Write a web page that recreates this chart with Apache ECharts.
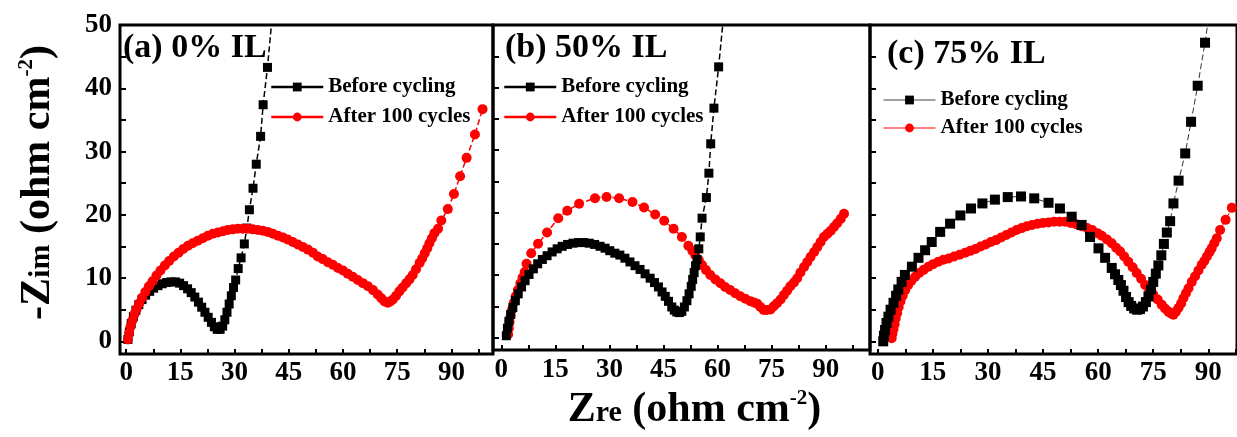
<!DOCTYPE html>
<html>
<head>
<meta charset="utf-8">
<script src="https://cdn.jsdelivr.net/npm/echarts@6/dist/echarts.min.js"></script>
<style>
html, body { margin: 0; padding: 0; background: #fff; }
#chart { width: 1237px; height: 437px; }
</style>
</head>
<body>
<div id="chart"></div>
<script>
// Nyquist data: [Zre, -Zim] in ohm cm^-2
const beforeA = [[0.5,0.3],[0.9,1.5],[1.4,2.8],[2.0,3.9],[2.7,4.9],[3.5,5.8],[4.4,6.6],[5.4,7.3],[6.5,7.9],[7.6,8.4],[8.8,8.8],[10.0,9.1],[11.2,9.3],[12.4,9.4],[13.6,9.4],[14.8,9.2],[15.9,8.8],[17.0,8.3],[18.0,7.7],[19.0,7.0],[20.0,6.2],[20.9,5.4],[21.8,4.6],[22.7,3.8],[23.6,3.0],[24.4,2.3],[25.2,1.9],[26.0,1.9],[26.7,2.4],[27.3,3.4],[27.9,4.6],[28.5,5.9],[29.1,7.2],[29.7,8.5],[30.3,9.7],[31.0,11.5],[31.8,13.2],[32.7,15.4],[33.4,17.9],[34.1,20.8],[35.1,24.2],[36.0,28.0],[37.2,32.4],[37.9,37.4],[39.1,43.3],[40.6,52.5]];
const afterA = [[0.5,0.3],[0.8,1.3],[1.2,2.3],[1.7,3.3],[2.3,4.3],[2.9,5.1],[3.6,6.0],[4.4,6.9],[5.3,7.8],[6.3,8.7],[7.3,9.5],[8.4,10.4],[9.5,11.2],[10.7,12.0],[11.9,12.7],[13.2,13.4],[14.5,14.0],[15.8,14.6],[17.1,15.1],[18.4,15.5],[19.8,15.9],[21.2,16.3],[22.6,16.7],[24.0,17.0],[25.4,17.2],[26.8,17.4],[28.1,17.6],[29.5,17.7],[30.9,17.8],[32.3,17.8],[33.7,17.8],[35.0,17.7],[36.4,17.6],[37.8,17.5],[39.2,17.3],[40.6,17.0],[42.0,16.7],[43.4,16.4],[44.7,16.1],[46.1,15.7],[47.5,15.3],[48.9,14.9],[50.3,14.5],[51.7,14.0],[53.0,13.4],[54.4,13.0],[55.8,12.5],[57.2,12.1],[58.6,11.6],[60.0,11.2],[61.3,10.7],[62.7,10.2],[64.1,9.7],[65.5,9.2],[66.9,8.7],[68.3,8.1],[69.6,7.4],[70.6,6.8],[71.5,6.3],[72.4,6.1],[73.1,6.3],[73.8,6.6],[74.7,7.2],[75.6,7.9],[76.5,8.5],[77.5,9.2],[78.4,9.8],[79.3,10.5],[80.2,11.4],[81.2,12.4],[81.9,13.1],[82.6,13.9],[83.3,14.7],[83.9,15.5],[84.6,16.3],[85.3,17.1],[86.3,17.8],[87.2,19.1],[89.0,20.9],[90.7,23.3],[92.4,26.1],[94.2,29.0],[96.5,32.7],[98.6,36.7]];
const beforeB = [[1.4,0.3],[1.7,1.5],[2.1,2.6],[2.6,3.7],[3.2,4.8],[3.9,5.9],[4.7,7.0],[5.6,8.1],[6.6,9.1],[7.7,10.1],[8.9,11.0],[10.1,11.8],[11.4,12.5],[12.7,13.1],[14.1,13.7],[15.5,14.2],[16.9,14.6],[18.4,14.9],[19.9,15.1],[21.4,15.2],[22.9,15.2],[24.4,15.1],[25.9,14.9],[27.4,14.6],[28.8,14.3],[30.1,13.9],[31.5,13.5],[32.9,13.2],[34.3,12.7],[35.7,12.1],[37.1,11.5],[38.5,10.9],[39.9,10.2],[41.3,9.5],[42.5,8.8],[43.6,8.1],[44.6,7.3],[45.5,6.6],[46.4,5.8],[47.3,4.9],[48.0,4.4],[48.7,4.1],[49.4,4.0],[50.1,4.2],[50.8,4.9],[51.5,5.9],[52.1,7.0],[52.7,8.2],[53.1,9.3],[53.5,10.4],[53.9,11.5],[54.3,12.5],[54.8,14.2],[55.2,16.1],[55.7,19.1],[56.9,22.4],[57.6,26.3],[58.1,31.0],[59.0,36.7],[60.3,43.3],[62.1,54.0]];
const afterB = [[1.9,0.5],[2.1,1.5],[2.3,2.5],[2.6,3.5],[3.0,4.5],[3.5,5.6],[4.0,6.6],[4.6,7.6],[5.3,8.7],[5.9,9.6],[6.5,10.5],[7.0,11.8],[8.3,13.5],[10.2,15.0],[12.7,16.8],[15.8,19.1],[18.3,20.3],[21.6,21.4],[26.0,22.3],[29.2,22.5],[32.7,22.3],[36.4,21.7],[39.6,20.8],[42.7,19.7],[45.2,18.7],[47.8,17.4],[50.1,16.1],[51.9,14.7],[53.0,13.9],[53.8,13.2],[54.8,12.4],[55.7,11.6],[56.8,10.8],[58.0,10.0],[59.4,9.3],[60.8,8.7],[62.1,8.1],[63.5,7.6],[64.9,7.1],[66.3,6.6],[67.7,6.2],[69.1,5.8],[70.1,5.6],[71.0,5.4],[71.9,4.9],[72.8,4.4],[73.7,4.4],[74.7,4.5],[75.6,5.0],[76.5,5.5],[77.5,6.1],[78.4,6.8],[79.3,7.5],[80.2,8.2],[81.2,8.8],[82.1,9.5],[83.0,10.4],[84.0,11.3],[84.9,12.1],[85.8,12.9],[86.8,13.7],[87.7,14.5],[88.6,15.3],[89.5,16.1],[90.5,16.6],[91.4,17.1],[92.3,17.7],[93.2,18.3],[94.2,19.0],[95.1,19.8]];
const beforeC = [[1.5,0.0],[1.7,0.9],[2.0,1.8],[2.4,2.9],[2.9,3.9],[3.5,5.0],[4.3,6.1],[5.0,7.2],[5.6,8.2],[6.5,9.4],[7.4,10.5],[9.3,11.8],[11.1,13.2],[12.9,14.4],[14.7,15.7],[17.0,17.3],[19.7,18.6],[22.5,19.9],[25.4,21.0],[28.5,21.8],[31.9,22.4],[35.4,22.8],[39.0,22.9],[42.6,22.6],[46.5,21.9],[49.6,21.0],[52.8,19.7],[55.5,18.4],[57.8,16.5],[60.1,14.7],[61.9,13.2],[63.7,11.6],[64.6,10.6],[65.5,9.7],[66.2,8.9],[66.9,8.0],[67.6,7.0],[68.3,6.2],[69.0,5.6],[69.8,5.2],[70.6,5.0],[71.4,5.1],[72.2,5.5],[73.0,6.2],[73.7,7.1],[74.4,8.2],[75.0,9.4],[75.7,10.7],[76.4,12.0],[77.2,13.6],[77.9,15.4],[78.7,17.2],[79.6,19.0],[80.5,21.8],[81.9,25.4],[83.7,29.7],[85.3,34.7],[87.1,40.4],[89.1,47.2],[91.0,55.0]];
const afterC = [[3.8,0.5],[4.0,1.2],[4.3,1.9],[4.6,2.7],[4.9,3.6],[5.3,4.5],[5.7,5.4],[6.2,6.3],[6.8,7.2],[7.5,8.1],[8.3,8.9],[9.2,9.6],[10.2,10.2],[11.3,10.8],[12.5,11.3],[13.8,11.8],[15.1,12.2],[16.5,12.6],[17.9,12.9],[19.3,13.1],[20.8,13.4],[22.3,13.7],[23.8,14.0],[25.2,14.3],[26.6,14.6],[28.0,15.0],[29.4,15.3],[30.8,15.7],[32.2,16.0],[33.6,16.4],[35.0,16.8],[36.4,17.2],[37.8,17.6],[39.2,17.9],[40.6,18.2],[42.0,18.4],[43.5,18.6],[45.0,18.7],[46.5,18.8],[48.0,18.9],[49.5,18.9],[51.0,18.9],[52.5,18.7],[54.0,18.5],[55.5,18.2],[57.0,17.9],[58.4,17.6],[59.8,17.1],[61.0,16.7],[62.4,16.1],[63.7,15.5],[64.9,14.8],[66.0,14.2],[67.1,13.4],[68.2,12.6],[69.4,11.7],[70.5,10.8],[71.7,9.9],[72.8,8.9],[73.9,8.1],[75.0,7.4],[76.2,6.6],[77.3,5.8],[78.2,5.2],[79.1,4.7],[79.8,4.4],[80.5,4.2],[81.2,4.7],[81.9,5.3],[82.6,6.0],[83.2,6.8],[83.9,7.6],[84.6,8.4],[85.5,9.4],[86.4,10.3],[87.3,11.2],[88.2,12.1],[88.9,12.7],[89.6,13.4],[90.3,14.1],[90.9,14.7],[91.6,15.5],[92.3,16.3],[93.2,17.6],[94.7,19.2],[96.4,21.1]];

const panelTitles = ['(a) 0% IL', '(b) 50% IL', '(c) 75% IL'];
const seriesNames = ['Before cycling', 'After 100 cycles'];
const xLabelValues = [0, 15, 30, 45, 60, 75, 90];
const xTickValues = [0, 7.5, 15, 22.5, 30, 37.5, 45, 52.5, 60, 67.5, 75, 82.5, 90, 97.5];
const yLabelValues = [0, 10, 20, 30, 40, 50];
const yTickValues = [0, 5, 10, 15, 20, 25, 30, 35, 40, 45, 50];

const font = "'Liberation Serif', 'Times New Roman', serif";

// panel layout (px) and axis ranges
const panels = [
    { left: 120, width: 373, xMin: -1.7, xMax: 101.5, before: beforeA, after: afterA, thin: false, sq: 9, titleLeft: 123, titleTop: 31, legLeft: 270, legTop: 76 },
    { left: 493, width: 377, xMin: -2.3, xMax: 102.3, before: beforeB, after: afterB, thin: false, sq: 9, titleLeft: 505, titleTop: 31, legLeft: 503, legTop: 76 },
    { left: 870, width: 367, xMin: -2.1, xMax: 97.8, before: beforeC, after: afterC, thin: true, sq: 10, titleLeft: 887, titleTop: 37, legLeft: 883, legTop: 89 }
];

const richName = {
    z: { fontSize: 42, lineHeight: 44, fontWeight: 'bold', fontFamily: font, color: '#000' },
    s: { fontSize: 30, lineHeight: 36, verticalAlign: 'bottom', padding: [0, 0, 4, 0], fontWeight: 'bold', fontFamily: font, color: '#000' },
    sup: { fontSize: 21, lineHeight: 22, verticalAlign: 'top', fontWeight: 'bold', fontFamily: font, color: '#000' }
};

const grid = [], xAxis = [], yAxis = [], series = [], title = [], legend = [];

panels.forEach((p, i) => {
    grid.push({
        left: p.left, top: 25, width: p.width, height: 329,
        show: true, borderColor: '#000', borderWidth: 3, backgroundColor: 'transparent'
    });
    xAxis.push({
        type: 'value', gridIndex: i, min: p.xMin, max: p.xMax,
        splitLine: { show: false },
        axisLine: { show: false, onZero: false },
        axisTick: { show: true, inside: true, length: 5, customValues: xTickValues, lineStyle: { color: '#000', width: 2 } },
        axisLabel: { customValues: xLabelValues, margin: 6, color: '#000', fontSize: 27, fontWeight: 'bold', fontFamily: font },
        name: i === 1 ? '{z|Z}{s|re}{z| (ohm cm}{sup|-2}{z|)}' : '',
        nameLocation: 'middle', nameGap: 36,
        nameTextStyle: { padding: [0, 0, 0, 26], rich: richName }
    });
    yAxis.push({
        type: 'value', gridIndex: i, min: -2, max: 50,
        splitLine: { show: false },
        axisLine: { show: false, onZero: false },
        axisTick: { show: true, inside: true, length: 6, customValues: yTickValues, lineStyle: { color: '#000', width: 2 } },
        axisLabel: { show: i === 0, customValues: yLabelValues, margin: 8, color: '#000', fontSize: 27, fontWeight: 'bold', fontFamily: font },
        name: i === 0 ? '{z|-Z}{s|im}{z| (ohm cm}{sup|-2}{z|)}' : '',
        nameLocation: 'middle', nameRotate: 90, nameGap: 60,
        nameTextStyle: { padding: [0, 0, 0, 14], rich: richName }
    });
    const lineW = p.thin ? 1 : 1.5;
    series.push({
        type: 'line', name: seriesNames[0], xAxisIndex: i, yAxisIndex: i, data: p.before,
        symbol: 'rect', symbolSize: p.sq, showAllSymbol: true,
        itemStyle: { color: '#000' },
        lineStyle: { color: p.thin ? '#333' : '#000', width: lineW, type: [6, 3] },
        z: i === 0 ? 2 : 3
    });
    series.push({
        type: 'line', name: seriesNames[1], xAxisIndex: i, yAxisIndex: i, data: p.after,
        symbol: 'circle', symbolSize: 10, showAllSymbol: true,
        itemStyle: { color: '#ff0000' },
        lineStyle: { color: '#ff0000', width: lineW, type: [6, 3] },
        z: i === 0 ? 3 : 2
    });
    title.push({
        text: panelTitles[i], left: p.titleLeft, top: p.titleTop, padding: 0,
        textStyle: { fontSize: 34, fontWeight: 'bold', fontFamily: font, color: '#000' }
    });
    legend.push({
        orient: 'vertical', left: p.legLeft, top: p.legTop, padding: 0,
        itemGap: p.thin ? 6 : 8, itemWidth: 52, itemHeight: 11,
        selectedMode: false,
        textStyle: { fontSize: 21, lineHeight: 22, fontWeight: 'bold', fontFamily: font, color: '#000' },
        data: [
            { name: seriesNames[0], lineStyle: { type: 'solid', width: p.thin ? 1 : 2.5, color: p.thin ? '#444' : '#000' } },
            { name: seriesNames[1], lineStyle: { type: 'solid', width: p.thin ? 1 : 2.5, color: '#ff0000' } }
        ]
    });
});

const chart = echarts.init(document.getElementById('chart'));
chart.setOption({
    backgroundColor: '#fff',
    animation: false,
    title, legend, grid, xAxis, yAxis, series
});
</script>
</body>
</html>
